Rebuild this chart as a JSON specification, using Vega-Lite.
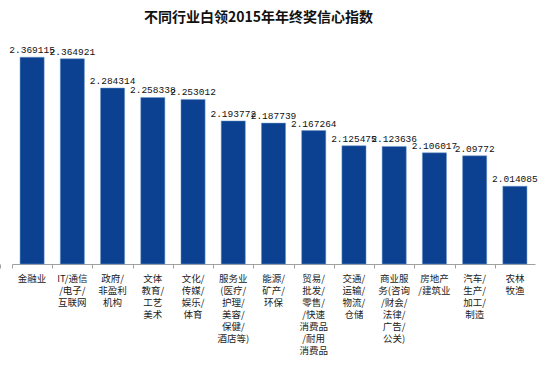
{
  "$schema": "https://vega.github.io/schema/vega-lite/v6.json",
  "autosize": "none",
  "width": 523,
  "height": 218,
  "padding": {"left": 12, "top": 46, "right": 16, "bottom": 104},
  "background": "white",
  "title": {
    "text": "不同行业白领2015年年终奖信心指数",
    "font": "Noto Sans CJK SC",
    "fontSize": 14,
    "fontWeight": "bold",
    "color": "#111111",
    "anchor": "middle",
    "dx": -15,
    "offset": 20
  },
  "data": {
    "values": [
      {"industry": "金融业", "index": 2.369115},
      {"industry": "IT/通信|/电子/|互联网", "index": 2.364921},
      {"industry": "政府/|非盈利|机构", "index": 2.284314},
      {"industry": "文体|教育/|工艺|美术", "index": 2.258338},
      {"industry": "文化/|传媒/|娱乐/|体育", "index": 2.253012},
      {"industry": "服务业|(医疗/|护理/|美容/|保健/|酒店等)", "index": 2.193772},
      {"industry": "能源/|矿产/|环保", "index": 2.187739},
      {"industry": "贸易/|批发/|零售/|/快速|消费品|/耐用|消费品", "index": 2.167264},
      {"industry": "交通/|运输/|物流/|仓储", "index": 2.125475},
      {"industry": "商业服|务(咨询|/财会/|法律/|广告/|公关)", "index": 2.123636},
      {"industry": "房地产|/建筑业", "index": 2.106017},
      {"industry": "汽车/|生产/|加工/|制造", "index": 2.09772},
      {"industry": "农林|牧渔", "index": 2.014085}
    ]
  },
  "encoding": {
    "x": {
      "field": "industry",
      "type": "nominal",
      "sort": null,
      "scale": {"paddingInner": 0.4, "paddingOuter": 0.2}
    },
    "y": {
      "field": "index",
      "type": "quantitative",
      "scale": {"domain": [1.8, 2.4], "zero": false},
      "axis": null
    }
  },
  "layer": [
    {
      "mark": {"type": "bar", "color": "#0b4190", "stroke": "#6f9ad0", "strokeWidth": 0.5},
      "encoding": {
        "x": {
          "field": "industry",
          "type": "nominal",
          "sort": null,
          "axis": {
            "orient": "bottom",
            "title": null,
            "labelAngle": 0,
            "labelExpr": "split(datum.label, '|')",
            "labelFont": "Noto Sans CJK SC",
            "labelFontSize": 9.5,
            "labelLineHeight": 12,
            "labelColor": "#222222",
            "labelPadding": 9,
            "labelLimit": 0,
            "ticks": false,
            "domain": false
          }
        },
        "y2": {"datum": 1.8}
      }
    },
    {
      "mark": {"type": "text", "font": "Liberation Mono", "fontSize": 9.5, "color": "#111111", "baseline": "bottom", "dy": -2},
      "encoding": {
        "x": {
          "field": "industry",
          "type": "nominal",
          "sort": null,
          "axis": {
            "orient": "bottom",
            "title": null,
            "labels": false,
            "domainColor": "#a0a0a0",
            "tickColor": "#a0a0a0",
            "tickSize": 4,
            "tickOffset": -20.1,
            "tickExtra": true
          }
        },
        "text": {"field": "index", "type": "quantitative", "format": ".6~f"}
      }
    }
  ],
  "resolve": {"axis": {"x": "independent"}},
  "config": {"view": {"stroke": null}}
}
